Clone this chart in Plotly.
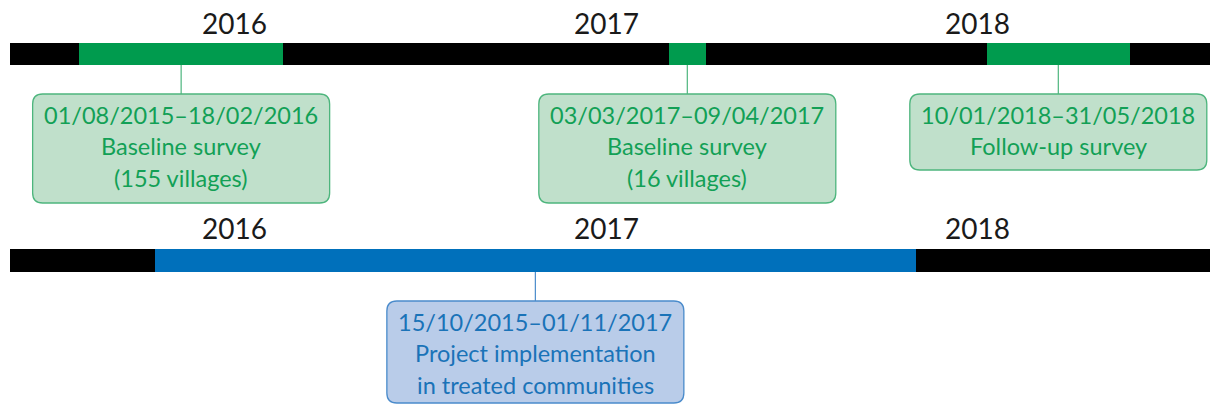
import plotly.graph_objects as go
import pandas as pd

# ---------------- data ----------------
years = ["2016", "2017", "2018"]
year_dates = ["2016-01-01", "2017-01-01", "2018-01-01"]
timeline_start = "2015-05-25"
timeline_end = "2018-12-31"

survey_start = ["2015-08-01", "2017-03-03", "2018-01-10"]
survey_end = ["2016-02-18", "2017-04-09", "2018-05-31"]
survey_labels = [["Baseline survey", "(155 villages)"],
                 ["Baseline survey", "(16 villages)"],
                 ["Follow-up survey"]]

project_start = ["2015-10-15"]
project_end = ["2017-11-01"]
project_labels = [["Project implementation", "in treated communities"]]

# ---------------- style ----------------
W, H = 1210, 404
GREEN = "#009b4e"
GREEN_TEXT = "#12a056"
GREEN_FILL = "#c0e0cb"
GREEN_EDGE = "#4db57d"
BLUE = "#0070bb"
BLUE_TEXT = "#1a73b8"
BLUE_FILL = "#b9cce9"
BLUE_EDGE = "#4a8bcb"
FONT = "Lato"
YEAR_SIZE = 28
BOX_SIZE = 23.5
LINE_GAP = 31.5
FIRST_OFFSET = 20.5

# x-axis mapping (2016-01-01 sits at 234.5 px, 2018-01-01 at 977.5 px)
origin = pd.Timestamp("2016-01-01")
ppd = (977.5 - 234.5) / 731.0
x_lo = origin - pd.Timedelta(days=234.5 / ppd)
x_hi = origin + pd.Timedelta(days=(W - 234.5) / ppd)

fig = go.Figure()

def add_bar(start, end, yc, h, color):
    s = pd.to_datetime(start)
    e = pd.to_datetime(end)
    fig.add_trace(go.Bar(
        orientation="h",
        base=[s.strftime("%Y-%m-%d")],
        x=[(e - s).total_seconds() * 1000],
        y=[yc], width=h,
        marker=dict(color=color, line=dict(width=0)),
        hoverinfo="skip", showlegend=False,
    ))

def rounded_path(w, yt, yb, r):
    return (f"M{-w + r},{yt} L{w - r},{yt} Q{w},{yt} {w},{yt + r} "
            f"L{w},{yb - r} Q{w},{yb} {w - r},{yb} L{-w + r},{yb} "
            f"Q{-w},{yb} {-w},{yb - r} L{-w},{yt + r} Q{-w},{yt} {-w + r},{yt} Z")

def add_events(starts, ends, labels, bar_y, bar_h, box_tops, box_bots,
               color, tcolor, fill, edge):
    for s, e, lab, bt, bb in zip(starts, ends, labels, box_tops, box_bots):
        s = pd.to_datetime(s)
        e = pd.to_datetime(e)
        add_bar(s, e, bar_y, bar_h, color)
        mid = (s + (e - s) / 2).strftime("%Y-%m-%d %H:%M:%S")
        fig.add_shape(type="line", xref="x", yref="y", x0=mid, x1=mid,
                      y0=bar_y + bar_h / 2, y1=bt,
                      line=dict(color=edge, width=1.2), layer="below")
        fig.add_shape(type="path", xref="x", yref="y", xsizemode="pixel",
                      xanchor=mid, path=rounded_path(148.5, bt, bb, 10),
                      fillcolor=fill, line=dict(color=edge, width=1.3))
        rng = f"{s.strftime('%d/%m/%Y')}–{e.strftime('%d/%m/%Y')}"
        lines = [rng] + lab
        for i, t in enumerate(lines):
            fig.add_annotation(x=mid, y=bt + FIRST_OFFSET + i * LINE_GAP,
                               xref="x", yref="y", text=t, showarrow=False,
                               font=dict(family=FONT, size=BOX_SIZE, color=tcolor),
                               yanchor="middle")

# top timeline
TOP_Y, TOP_H = 54, 22
add_bar(timeline_start, timeline_end, TOP_Y, TOP_H, "#000000")
add_events(survey_start, survey_end, survey_labels, TOP_Y, TOP_H,
           [94, 94, 94], [203, 203, 170], GREEN, GREEN_TEXT, GREEN_FILL, GREEN_EDGE)

# bottom timeline
BOT_Y, BOT_H = 260.3, 22.6
add_bar(timeline_start, timeline_end, BOT_Y, BOT_H, "#000000")
add_events(project_start, project_end, project_labels, BOT_Y, BOT_H,
           [301], [403], BLUE, BLUE_TEXT, BLUE_FILL, BLUE_EDGE)

# year labels
for yl in (22.5, 228):
    for lab, d in zip(years, year_dates):
        fig.add_annotation(x=d, y=yl, xref="x", yref="y", text=lab,
                           showarrow=False,
                           font=dict(family=FONT, size=YEAR_SIZE, color="#1a1a1a"))

fig.update_layout(
    width=W, height=H,
    margin=dict(l=0, r=0, t=0, b=0),
    paper_bgcolor="white", plot_bgcolor="white",
    barmode="overlay", bargap=0,
    xaxis=dict(type="date", range=[x_lo, x_hi], visible=False, fixedrange=True),
    yaxis=dict(range=[H, 0], visible=False, fixedrange=True),
    showlegend=False,
)

fig.write_html(
    "out.html",
    config={"displayModeBar": False},
    post_script="document.body.style.margin='0';document.body.style.overflow='hidden';",
)
